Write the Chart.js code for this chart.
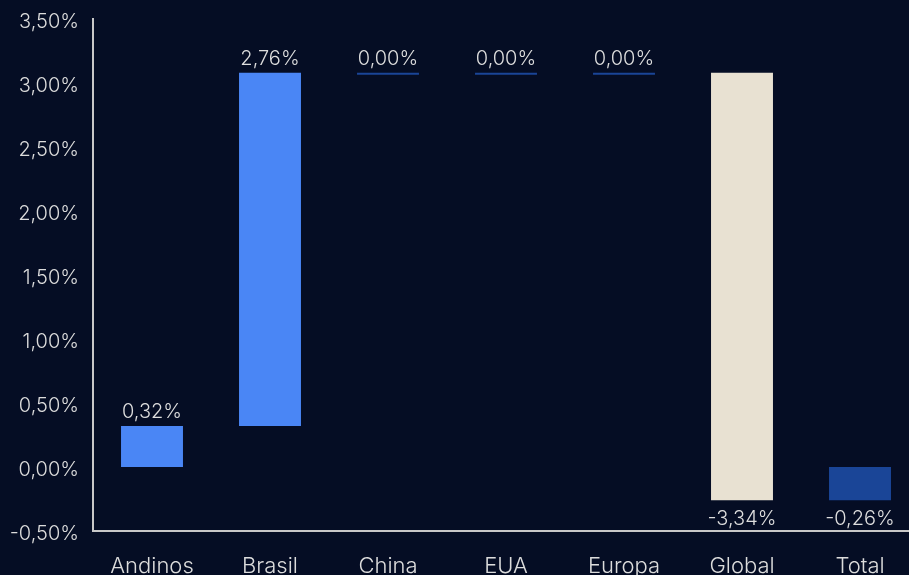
<!DOCTYPE html>
<html>
<head>
<meta charset="utf-8">
<script src="https://cdn.jsdelivr.net/npm/chart.js@4"></script>
<style>
  html, body { margin: 0; padding: 0; background: #050d24; overflow: hidden; }
  #wrap { width: 930px; height: 575px; }
</style>
</head>
<body>
<div id="wrap"><canvas id="chart"></canvas></div>
<script>
// Waterfall data
const categories = ['Andinos', 'Brasil', 'China', 'EUA', 'Europa', 'Global', 'Total'];
const variations = [0.32, 2.76, 0.00, 0.00, 0.00, -3.34];
const barColors = ['#4a86f5', '#4a86f5', '#1a4597', '#1a4597', '#1a4597', '#e8e1d2', '#1a4597'];
const yTicks = [-0.5, 0, 0.5, 1, 1.5, 2, 2.5, 3, 3.5];

// build floating ranges from the variations
const ranges = [];
const labels = [];
let acc = 0;
variations.forEach(v => {
    ranges.push([acc, acc + v]);
    labels.push(v);
    acc += v;
});
ranges.push([0, acc]);
labels.push(acc);

const fmt = v => (Math.abs(v) < 1e-9 ? 0 : v).toFixed(2).replace('.', ',') + '%';

// value labels above (positive) or below (negative) each bar
const valueLabels = {
    id: 'valueLabels',
    afterDatasetsDraw(chart) {
        const ctx = chart.ctx;
        const meta = chart.getDatasetMeta(0);
        ctx.save();
        ctx.font = '300 20px Inter';
        ctx.fillStyle = '#dedede';
        ctx.textAlign = 'center';
        meta.data.forEach((bar, i) => {
            const v = labels[i];
            const top = Math.min(bar.y, bar.base);
            const bottom = Math.max(bar.y, bar.base);
            if (v >= 0) {
                ctx.textBaseline = 'bottom';
                ctx.fillText(fmt(v), bar.x, top - 4);
            } else {
                ctx.textBaseline = 'top';
                ctx.fillText(fmt(v), bar.x, bottom + 9);
            }
        });
        ctx.restore();
    }
};

document.addEventListener('DOMContentLoaded', () => {
    const ctx = document.getElementById('chart').getContext('2d');
    new Chart(ctx, {
        type: 'bar',
        data: {
            labels: categories,
            datasets: [{
                data: ranges,
                backgroundColor: barColors,
                borderColor: barColors,
                borderWidth: 0,
                minBarLength: 2,
                categoryPercentage: 1,
                barPercentage: 0.525
            }]
        },
        options: {
            responsive: true,
            maintainAspectRatio: false,
            animation: false,
            layout: { padding: { top: 19, right: 11, left: 0, bottom: 0 } },
            plugins: {
                legend: { display: false },
                tooltip: { enabled: false }
            },
            scales: {
                x: {
                    grid: { display: false, drawTicks: false },
                    border: { display: true, color: '#c8c8c8', width: 2 },
                    ticks: { color: '#dcdcdc', font: { family: 'Inter', size: 22, weight: 300 }, padding: 22, maxRotation: 0 },
                    afterFit: s => { s.height = 44; s.paddingLeft = 0; s.paddingRight = 0; }
                },
                y: {
                    min: -0.5,
                    max: 3.5,
                    grid: { display: false, drawTicks: false },
                    border: { display: true, color: '#c8c8c8', width: 2 },
                    afterBuildTicks: s => { s.ticks = yTicks.map(v => ({ value: v })); },
                    ticks: {
                        color: '#dcdcdc',
                        font: { family: 'Inter', size: 20, weight: 300 },
                        padding: 14,
                        labelOffset: 3,
                        callback: v => fmt(v)
                    },
                    afterFit: s => { s.width = 93; s.paddingTop = 0; s.paddingBottom = 0; }
                }
            }
        },
        plugins: [valueLabels]
    });
});
</script>
</body>
</html>
